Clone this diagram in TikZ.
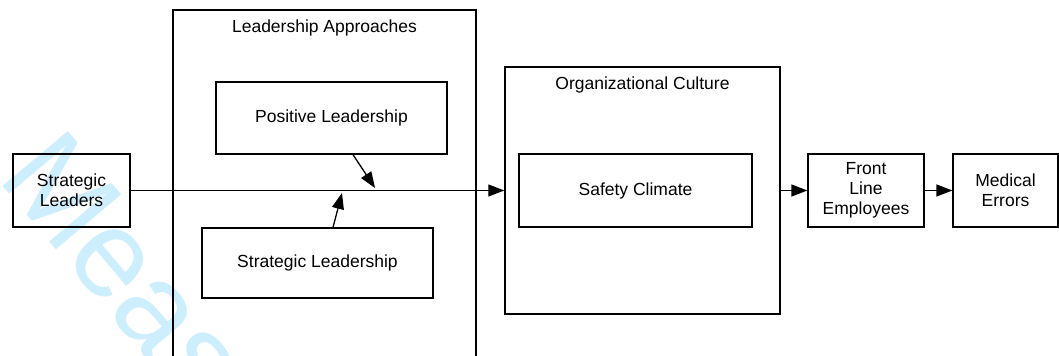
\documentclass[tikz,border=0pt]{standalone}
\usepackage{fontspec}
\setmainfont{Liberation Sans}
\usetikzlibrary{arrows.meta}

\definecolor{wmark}{RGB}{205,238,252}

\tikzset{
	box/.style={draw, line width=0.65pt, align=center, font=\fontsize{8.75}{10}\selectfont},
	frame/.style={draw, line width=0.75pt},
	title/.style={anchor=north, inner sep=0pt, font=\fontsize{8.75}{10}\selectfont},
	arr/.style={line width=0.65pt, -{Triangle[length=8pt,width=6pt]}}
}

\begin{document}
\begin{tikzpicture}[x=0.5pt,y=-0.5pt]
		\useasboundingbox (0,0) rectangle (1059,356);
		\clip (0,0) rectangle (1059,356);
		% watermark behind everything
		\node[anchor=base west, rotate=-50, inner sep=0pt, text=wmark,
			font=\fontsize{62}{62}\selectfont] at (-4,178) {Measures};
		% outer frames
		\node[frame, minimum width=151.5pt, minimum height=180pt] (approach) at (324.5,190) {};
		\node[title] at ([yshift=-5pt]approach.north) {Leadership Approaches};
		\node[frame, minimum width=137.5pt, minimum height=123.5pt] (culture) at (642.5,190.5) {};
		\node[title] at ([yshift=-5pt]culture.north) {Organizational Culture};
		% boxes
		\node[box, minimum width=58.5pt, minimum height=36.5pt] (leaders) at (71.5,190.5) {Strategic\\Leaders};
		\node[box, minimum width=115.5pt, minimum height=36pt] (positive) at (331.5,118) {Positive Leadership};
		\node[box, minimum width=115.5pt, minimum height=35pt] (strategic) at (317.5,263) {Strategic Leadership};
		\node[box, minimum width=116.5pt, minimum height=36.5pt] (safety) at (635.5,190.5) {Safety Climate};
		\node[box, minimum width=58pt, minimum height=36.5pt] (front) at (866,190.5) {Front\\Line\\Employees};
		\node[box, minimum width=52.5pt, minimum height=36.5pt] (errors) at (1005.5,190.5) {Medical\\Errors};
		% arrows
		\coordinate (hitA) at (375,188);
		\coordinate (hitB) at (342,193);
		\draw[arr] (leaders.east) -- (culture.west);
		\draw[arr] ([xshift=10.75pt]positive.south) -- (hitA);
		\draw[arr] ([xshift=7.75pt]strategic.north) -- (hitB);
		\draw[arr] (culture.east) -- (front.west);
		\draw[arr] (front.east) -- (errors.west);
	\end{tikzpicture}
\end{document}
